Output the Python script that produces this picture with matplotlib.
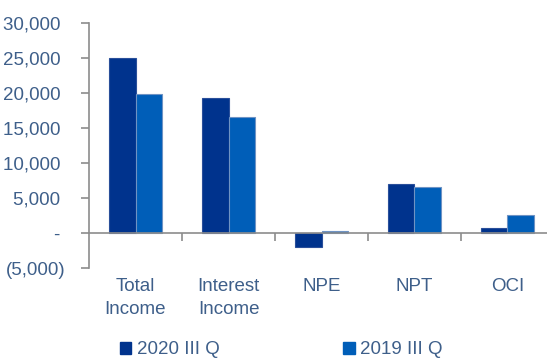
import matplotlib
matplotlib.use("Agg")
import matplotlib.pyplot as plt
from matplotlib.patches import Patch
import numpy as np

categories = ["Total\nIncome", "Interest\nIncome", "NPE", "NPT", "OCI"]
series_2020 = [25000, 19300, -2000, 7050, 700]
series_2019 = [19850, 16500, 300, 6600, 2550]
series_names = ["2020 III Q", "2019 III Q"]
yticks = [-5000, 0, 5000, 10000, 15000, 20000, 25000, 30000]

c2020 = "#00338D"
c2019 = "#005EB8"
txt = "#3E5F8A"
gray = "#8C8C8C"

plt.rcParams['font.family'] = ['Liberation Sans', 'DejaVu Sans']
fs = 13.5

W, H = 547, 360
fig = plt.figure(figsize=(W/100, H/100), dpi=100)
left = 89 / W
right = 554 / W
top = 1 - 22.7 / H
bottom = 1 - 268.4 / H
ax = fig.add_axes([left, bottom, right - left, top - bottom])

x = np.arange(len(categories))
bw = 0.285
ax.bar(x - bw/2, series_2020, bw, color=c2020, edgecolor="#2a4f9a", linewidth=0.8, zorder=3)
ax.bar(x + bw/2, series_2019, bw, color=c2019, edgecolor="#6f93c4", linewidth=0.8, zorder=3)

ax.set_xlim(-0.5, len(categories) - 0.5)
ax.set_ylim(-5000, 30000)

for s in ["top", "right"]:
    ax.spines[s].set_visible(False)
ax.spines["left"].set_color(gray)
ax.spines["left"].set_linewidth(1.2)
ax.spines["bottom"].set_position(("data", 0))
ax.spines["bottom"].set_color(gray)
ax.spines["bottom"].set_linewidth(1.2)
ax.spines["bottom"].set_zorder(4)

def fmt(v):
    if v == 0:
        return "- "
    if v < 0:
        return "({:,})".format(-v)
    return "{:,} ".format(v)

ax.set_yticks(yticks)
ax.set_yticklabels([fmt(v) for v in yticks])
ax.tick_params(axis="y", direction="out", length=6, width=1.2, color=gray,
               labelcolor=txt, labelsize=fs, pad=11)
ax.set_xticks(np.arange(len(categories)) + 0.5)
ax.set_xticklabels([])
ax.tick_params(axis="x", direction="out", length=6, width=1.2, color=gray)

for i, c in enumerate(categories):
    ax.annotate(c, xy=(i, 0), xycoords=("data", "axes fraction"),
                xytext=(0, -7), textcoords="offset points",
                ha="center", va="top", fontsize=fs, color=txt, linespacing=1.45)

handles = [Patch(facecolor=c2020, edgecolor=c2020), Patch(facecolor=c2019, edgecolor=c2019)]
leg = fig.legend(handles, series_names, loc="center left",
                 bbox_to_anchor=(120 / W, 1 - 350 / H), ncol=2, frameon=False,
                 fontsize=fs, handlelength=0.6, handleheight=0.6,
                 handletextpad=0.3, columnspacing=6.6, borderaxespad=0, borderpad=0)
for t in leg.get_texts():
    t.set_color(txt)

fig.savefig("out.png", dpi=100)
